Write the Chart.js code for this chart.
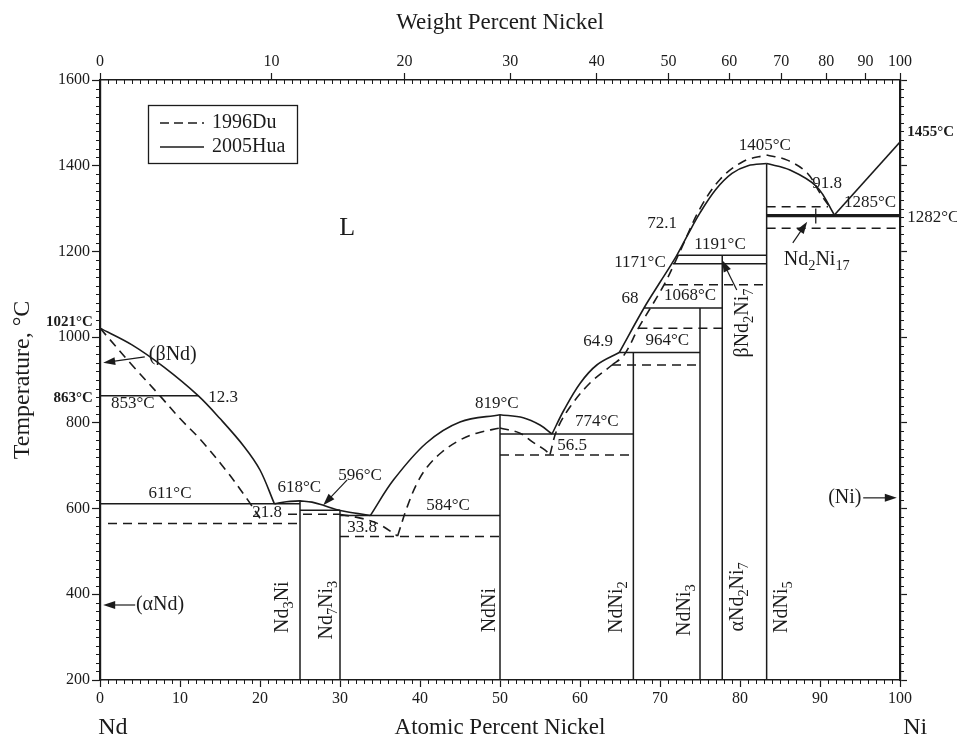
<!DOCTYPE html>
<html>
<head>
<meta charset="utf-8">
<script src="https://cdn.jsdelivr.net/npm/chart.js@4.4.1/dist/chart.umd.min.js"></script>
<style>
html, body { margin: 0; padding: 0; background: #fff; }
</style>
</head>
<body>
<canvas id="c" width="957" height="742"></canvas>
<script>
// ---- data (atomic % Ni, temperature in °C) ----
const wtTicks = [0, 10, 20, 30, 40, 50, 60, 70, 80, 90, 100];

// 2005Hua (solid)
const huaNdLiquidus   = [[0, 1021], [4, 982], [8, 930], [12.3, 863], [15, 810], [18, 745], [20, 690], [21.8, 611]];
const huaNd3NiLeft    = [[21.8, 611], [23.3, 616], [25, 618]];
const huaNd3NiRight   = [[25, 618], [26.5, 615], [28, 607], [29.5, 598], [31, 592], [33.8, 584]];
const huaNdNiLeft     = [[33.8, 584], [36.7, 667], [40.8, 753], [45, 802], [50, 819]];
const huaNdNiRight    = [[50, 819], [52.9, 812], [55, 795], [56.5, 774]];
const huaNdNi2Liq     = [[56.5, 774], [58, 830], [60, 892], [62.1, 935], [64.9, 964]];
const huaNdNi5Left    = [[64.9, 964], [68, 1068], [70, 1128], [72.1, 1191], [73.5, 1240], [75, 1290], [77, 1345], [79, 1382], [81, 1400], [83.33, 1405]];
const huaNdNi5Right   = [[83.33, 1405], [86.25, 1390], [89.6, 1351], [91.8, 1285]];
const huaNiLiquidus   = [[91.8, 1285], [100, 1455]];
// [from, to, temperature]
const huaIsotherms = [
  [0, 12.3, 863], [0, 25, 611], [25, 30, 596], [30, 50, 584], [50, 66.67, 774],
  [64.9, 75, 964], [68, 77.78, 1068], [71.6, 83.33, 1171], [72.1, 83.33, 1191],
  [83.33, 100, 1282], [83.33, 100, 1285]
];
// [composition, top temperature]
const compounds = [[25, 618], [30, 596], [50, 819], [66.67, 964], [75, 1068], [77.78, 1191], [83.33, 1405]];
const nd2ni17 = [[89.47, 1265], [89.47, 1300]];

// 1996Du (dashed)
const duNdLiquidus  = [[0, 1021], [4, 935], [7.5, 863], [10, 810], [12.5, 762], [15.8, 688], [18.4, 622], [20.4, 566]];
const duNdNiLeft    = [[30, 586], [32, 580], [34.6, 566], [37.2, 536]];
const duNdNiDome    = [[37.2, 536], [38.4, 604], [39.6, 658], [40.9, 697], [42.75, 732], [45, 760], [47.1, 776], [50, 788]];
const duNdNiRight   = [[50, 788], [52.5, 776], [54.1, 755], [55.6, 737], [56.25, 726]];
const duNdNi2Liq    = [[56.25, 726], [57.1, 783], [58.75, 837], [61.25, 893], [64, 935]];
const duNdNi5Left   = [[64, 935], [65.5, 958], [67.3, 1021], [70.5, 1122], [72.5, 1200], [75, 1300], [77.5, 1368], [80.4, 1410], [83.33, 1425]];
const duNdNi5Right  = [[83.33, 1425], [85.9, 1413], [88.4, 1383], [90, 1336], [91.2, 1304]];
const duIsotherms = [
  [1, 25, 565], [23.5, 30, 587], [30, 50, 535], [50, 66.67, 725], [64, 75, 935],
  [67.3, 77.78, 1021], [70.5, 83.33, 1122], [83.33, 91, 1304], [83.33, 99.5, 1254]
];

// text labels: [text, at%, °C, kind, align]
const labels = [
  ['1021°C', -0.9, 1035, 'bold', 'right'],
  ['863°C', -0.9, 858, 'bold', 'right'],
  ['1455°C', 100.9, 1479, 'bold', 'left'],
  ['1282°C', 100.9, 1280, 'num', 'left'],
  ['853°C', 4.1, 846, 'num'],
  ['12.3', 15.4, 860, 'num'],
  ['611°C', 8.75, 636, 'num'],
  ['21.8', 20.9, 590, 'num'],
  ['618°C', 24.9, 650, 'num'],
  ['596°C', 32.5, 678, 'num'],
  ['33.8', 32.75, 555, 'num'],
  ['584°C', 43.5, 608, 'num'],
  ['819°C', 49.6, 846, 'num'],
  ['774°C', 62.1, 802, 'num'],
  ['56.5', 59, 748, 'num'],
  ['64.9', 62.25, 989, 'num'],
  ['964°C', 70.9, 993, 'num'],
  ['68', 66.25, 1089, 'num'],
  ['1068°C', 73.75, 1096, 'num'],
  ['1171°C', 67.5, 1175, 'num'],
  ['72.1', 70.25, 1266, 'num'],
  ['1191°C', 77.5, 1217, 'num'],
  ['1405°C', 83.1, 1448, 'num'],
  ['91.8', 90.9, 1359, 'num'],
  ['1285°C', 96.25, 1313, 'num'],
  ['(βNd)', 9.1, 958, 'phase'],
  ['(αNd)', 7.5, 375, 'phase'],
  ['(Ni)', 93.1, 625, 'phase'],
  ['Nd_{2}Ni_{17}', 89.6, 1180, 'phase'],
  ['L', 30.9, 1255, 'big'],
  ['Nd_{3}Ni', 22.9, 370, 'rot'],
  ['Nd_{7}Ni_{3}', 28.4, 363, 'rot'],
  ['NdNi', 48.75, 363, 'rot'],
  ['NdNi_{2}', 64.6, 370, 'rot'],
  ['NdNi_{3}', 73.1, 363, 'rot'],
  ['αNd_{2}Ni_{7}', 79.75, 394, 'rot'],
  ['NdNi_{5}', 85.25, 370, 'rot'],
  ['βNd_{2}Ni_{7}', 80.4, 1033, 'rot']
];
// arrows: [tail at%, tail °C, head at%, head °C]
const arrows = [
  [5.6, 954, 0.4, 940],
  [4.4, 375, 0.4, 375],
  [95.4, 625, 99.6, 625],
  [30.9, 667, 27.9, 608],
  [79.6, 1110, 77.75, 1180],
  [86.6, 1220, 88.4, 1269]
];

const INK = '#1b1b1b';
const SERIF = '"Liberation Serif", "Times New Roman", serif';

function wtToAt(w) {
  // weight % Ni -> atomic % Ni (Ni 58.693, Nd 144.242)
  if (w >= 100) return 100;
  const ni = w / 58.693, nd = (100 - w) / 144.242;
  return 100 * ni / (ni + nd);
}

function lineSet(pts, dashed, smooth, width) {
  return {
    data: pts.map(([x, y]) => ({ x, y })),
    showLine: true,
    borderColor: INK,
    borderWidth: width || 1.6,
    borderDash: dashed ? [9, 6] : [],
    pointRadius: 0,
    pointHoverRadius: 0,
    tension: smooth ? 0.35 : 0,
    xAxisID: 'x',
    yAxisID: 'y'
  };
}

const datasets = [];
[huaNdLiquidus, huaNd3NiLeft, huaNd3NiRight, huaNdNiLeft, huaNdNiRight, huaNdNi2Liq, huaNdNi5Left, huaNdNi5Right]
  .forEach(c => datasets.push(lineSet(c, false, true)));
datasets.push(lineSet(huaNiLiquidus, false, false));
huaIsotherms.forEach(([a, b, t]) => datasets.push(lineSet([[a, t], [b, t]], false, false, t > 1280 && t < 1290 ? 1.8 : 1.5)));
compounds.forEach(([x, t]) => datasets.push(lineSet([[x, 200], [x, t]], false, false, 1.5)));
datasets.push(lineSet(nd2ni17, false, false, 1.3));
[duNdLiquidus, duNdNiLeft, duNdNiDome, duNdNiRight, duNdNi2Liq, duNdNi5Left, duNdNi5Right]
  .forEach(c => datasets.push(lineSet(c, true, true)));
duIsotherms.forEach(([a, b, t]) => datasets.push(lineSet([[a, t], [b, t]], true, false, 1.5)));

function richParts(str) {
  const parts = [];
  const re = /_\{([^}]*)\}/g;
  let last = 0, m;
  while ((m = re.exec(str))) {
    if (m.index > last) parts.push({ t: str.slice(last, m.index), sub: false });
    parts.push({ t: m[1], sub: true });
    last = re.lastIndex;
  }
  if (last < str.length) parts.push({ t: str.slice(last), sub: false });
  return parts;
}

function drawRich(ctx, str, x, y, size, align, weight) {
  const parts = richParts(str);
  const fnt = s => `${weight || 'normal'} ${s}px ${SERIF}`;
  let w = 0;
  parts.forEach(p => {
    ctx.font = fnt(p.sub ? size * 0.72 : size);
    p.w = ctx.measureText(p.t).width;
    w += p.w;
  });
  let cx = align === 'left' ? x : align === 'right' ? x - w : x - w / 2;
  ctx.textAlign = 'left';
  ctx.textBaseline = 'middle';
  parts.forEach(p => {
    ctx.font = fnt(p.sub ? size * 0.72 : size);
    ctx.fillText(p.t, cx, p.sub ? y + size * 0.3 : y);
    cx += p.w;
  });
}

const decor = {
  id: 'decor',
  afterDraw(chart) {
    const ctx = chart.ctx;
    const xs = chart.scales.x, ys = chart.scales.y;
    const a = chart.chartArea;
    ctx.save();
    ctx.strokeStyle = INK;
    ctx.fillStyle = INK;
    ctx.lineWidth = 1;

    // minor ticks
    ctx.beginPath();
    for (let v = 0; v <= 100; v++) {
      const px = Math.round(xs.getPixelForValue(v)) + 0.5;
      if (v % 10 !== 0) { ctx.moveTo(px, a.bottom); ctx.lineTo(px, a.bottom + 4); }
      ctx.moveTo(px, a.top); ctx.lineTo(px, a.top + 4);
    }
    for (let t = 200; t <= 1600; t += 20) {
      if (t % 200 === 0) continue;
      const py = Math.round(ys.getPixelForValue(t)) + 0.5;
      ctx.moveTo(a.left - 4, py); ctx.lineTo(a.left, py);
      ctx.moveTo(a.right, py); ctx.lineTo(a.right + 4, py);
    }
    ctx.stroke();

    // labels
    labels.forEach(([t, x, y, kind, align]) => {
      const px = xs.getPixelForValue(x), py = ys.getPixelForValue(y);
      if (kind === 'rot') {
        ctx.save();
        ctx.translate(px, py);
        ctx.rotate(-Math.PI / 2);
        drawRich(ctx, t, 0, 0, 20, 'center');
        ctx.restore();
      } else if (kind === 'bold') {
        drawRich(ctx, t, px, py, 15, align, 'bold');
      } else if (kind === 'num') {
        drawRich(ctx, t, px, py, 17, align || 'center');
      } else if (kind === 'big') {
        drawRich(ctx, t, px, py, 26, 'center');
      } else {
        drawRich(ctx, t, px, py, 20, align || 'center');
      }
    });

    // arrows
    arrows.forEach(([x1, y1, x2, y2]) => {
      const ax = xs.getPixelForValue(x1), ay = ys.getPixelForValue(y1);
      const bx = xs.getPixelForValue(x2), by = ys.getPixelForValue(y2);
      const ang = Math.atan2(by - ay, bx - ax);
      ctx.lineWidth = 1.2;
      ctx.beginPath();
      ctx.moveTo(ax, ay);
      ctx.lineTo(bx - 8 * Math.cos(ang), by - 8 * Math.sin(ang));
      ctx.stroke();
      ctx.beginPath();
      ctx.moveTo(bx, by);
      ctx.lineTo(bx - 12 * Math.cos(ang) + 4 * Math.sin(ang), by - 12 * Math.sin(ang) - 4 * Math.cos(ang));
      ctx.lineTo(bx - 12 * Math.cos(ang) - 4 * Math.sin(ang), by - 12 * Math.sin(ang) + 4 * Math.cos(ang));
      ctx.closePath();
      ctx.fill();
    });

    // legend box
    const lx = a.left + 48, ly = a.top + 25;
    ctx.lineWidth = 1.3;
    ctx.strokeRect(lx + 0.5, ly + 0.5, 149, 58);
    ctx.beginPath();
    ctx.setLineDash([9, 5]);
    ctx.moveTo(lx + 12, ly + 18); ctx.lineTo(lx + 56, ly + 18);
    ctx.stroke();
    ctx.setLineDash([]);
    ctx.lineWidth = 1.6;
    ctx.beginPath();
    ctx.moveTo(lx + 12, ly + 42); ctx.lineTo(lx + 56, ly + 42);
    ctx.stroke();
    drawRich(ctx, '1996Du', lx + 64, ly + 18, 20, 'left');
    drawRich(ctx, '2005Hua', lx + 64, ly + 42, 20, 'left');

    // element names under the axis ends
    drawRich(ctx, 'Nd', xs.getPixelForValue(1.6), 728, 24, 'center');
    drawRich(ctx, 'Ni', xs.getPixelForValue(101.9), 728, 24, 'center');
    ctx.restore();
  }
};

const tickFont = { family: SERIF, size: 16 };
const titleFont = { family: SERIF, size: 23 };

new Chart(document.getElementById('c').getContext('2d'), {
  type: 'scatter',
  data: { datasets },
  options: {
    responsive: false,
    animation: false,
    events: [],
    layout: { padding: 0 },
    plugins: { legend: { display: false }, tooltip: { enabled: false } },
    scales: {
      x: {
        type: 'linear', position: 'bottom', min: 0, max: 100,
        ticks: { stepSize: 10, font: tickFont, color: INK, padding: 2, maxRotation: 0, callback: v => String(v) },
        grid: { drawOnChartArea: false, tickLength: 7, tickColor: INK, tickWidth: 1.2 },
        border: { color: INK, width: 1.5 },
        title: { display: true, text: 'Atomic Percent Nickel', font: titleFont, color: INK, padding: { top: 0, bottom: 0 } },
        afterFit: s => { s.height = 62; }
      },
      xTop: {
        type: 'linear', position: 'top', min: 0, max: 100,
        afterBuildTicks: s => { s.ticks = wtTicks.map(w => ({ value: wtToAt(w) })); },
        ticks: { autoSkip: false, font: tickFont, color: INK, padding: 2, maxRotation: 0, callback: (v, i) => String(wtTicks[i]) },
        grid: { drawOnChartArea: false, tickLength: 7, tickColor: INK, tickWidth: 1.2 },
        border: { color: INK, width: 1.5 },
        title: { display: true, text: 'Weight Percent Nickel', font: titleFont, color: INK, padding: { top: 9, bottom: 0 } },
        afterFit: s => { s.height = 80; }
      },
      y: {
        position: 'left', min: 200, max: 1600,
        ticks: { stepSize: 200, font: tickFont, color: INK, padding: 2, callback: v => String(v) },
        grid: { drawOnChartArea: false, tickLength: 8, tickColor: INK, tickWidth: 1.2 },
        border: { color: INK, width: 2.2 },
        title: { display: true, text: 'Temperature, °C', font: { family: SERIF, size: 24 }, color: INK, padding: { top: 8, bottom: 0 } },
        afterFit: s => { s.width = 100; }
      },
      yR: {
        position: 'right', min: 200, max: 1600,
        ticks: { stepSize: 200, callback: () => '' },
        grid: { drawOnChartArea: false, tickLength: 7, tickColor: INK, tickWidth: 1.2 },
        border: { color: INK, width: 2.2 },
        afterFit: s => { s.width = 57; }
      }
    }
  },
  plugins: [decor]
});
</script>
</body>
</html>
